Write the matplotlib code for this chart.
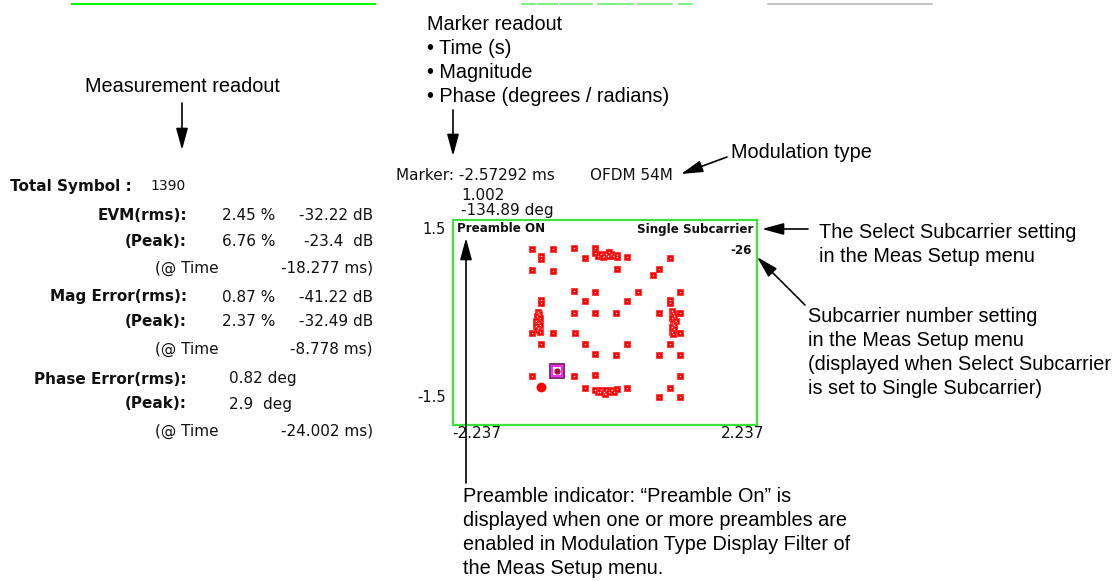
import matplotlib.pyplot as plt

# ---- constellation points (I, Q) ----
i_vals = [-1.07, -0.76, -0.46, -0.15, -0.94, -0.94, -0.30,
          -0.15, -0.10, -0.06, -0.02, 0.01, 0.05, 0.09, 0.12, 0.17, 0.17, -0.03, 0.06,
          0.33, 0.95, -1.07, -0.76, 0.17, 0.79, 0.71,
          -0.46, -0.15, 0.48, 1.10, -0.94, -0.94, -0.30, 0.33, 0.96, 0.96,
          -0.46, -0.15, 0.16, 0.79, 1.10,
          -0.98, -0.97, -1.00, -0.96, -1.02, -0.98, -0.96, -1.01, -0.98, -1.00, -0.96,
          0.98, 1.00, 1.02, 0.98, 1.04, 1.00, 1.02, 0.98, 1.01, 0.99, 1.00,
          -1.07, -0.76, -0.44, 1.10, -0.94, -0.30, 0.33, 0.96,
          -0.14, 0.16, 0.79, 1.10, -1.07, -0.46, -0.14, 1.10,
          -0.30, -0.15, -0.11, -0.06, -0.02, 0.00, 0.02, 0.06, 0.10, 0.13, 0.17, -0.07,
          0.33, 0.96, 0.79, 1.10]
q_vals = [1.08, 1.08, 1.09, 1.09, 0.97, 0.93, 0.94,
          1.02, 0.98, 1.00, 0.97, 1.00, 0.97, 1.00, 0.97, 0.99, 0.96, 0.955, 1.03,
          0.955, 0.945, 0.77, 0.76, 0.78, 0.78, 0.69,
          0.46, 0.45, 0.45, 0.44, 0.33, 0.28, 0.32, 0.31, 0.33, 0.29,
          0.145, 0.145, 0.145, 0.145, 0.145,
          0.16, 0.12, 0.09, 0.06, 0.02, 0.00, -0.03, -0.05, -0.08, -0.11, -0.14,
          0.17, 0.135, 0.10, 0.06, 0.02, 0.00, -0.04, -0.07, -0.10, -0.135, -0.17,
          -0.15, -0.16, -0.16, -0.16, -0.32, -0.32, -0.32, -0.32,
          -0.46, -0.48, -0.48, -0.48, -0.79, -0.79, -0.77, -0.79,
          -0.96, -0.99, -1.01, -0.985, -1.02, -1.05, -0.99, -1.02, -0.985, -1.01, -0.98, -1.02,
          -0.96, -0.96, -1.09, -1.09]
marker_i, marker_q = -0.70, -0.71
dot_i, dot_q = -0.94, -0.945

# ---- screen readouts ----
readout_labels = ['EVM(rms):', '(Peak):', '(@ Time', 'Mag Error(rms):', '(Peak):', '(@ Time',
                  'Phase Error(rms):', '(Peak):', '(@ Time']
readout_val1 = ['2.45 %', '6.76 %', '', '0.87 %', '2.37 %', '', '0.82 deg', '2.9  deg', '']
readout_val2 = ['-32.22 dB', '-23.4  dB', '-18.277 ms)', '-41.22 dB', '-32.49 dB', '-8.778 ms)',
                '', '', '-24.002 ms)']
readout_y = [216, 241, 268, 297, 322, 349, 379, 404, 431]

marker_lines = ['Marker: -2.57292 ms', '1.002', '-134.89 deg']

W, H = 1117, 581
fig = plt.figure(figsize=(W / 100, H / 100), dpi=100)

SCREEN = 'DejaVu Sans'
NOTE = 'Liberation Sans'
NOTE_SIZE = 14.3
GREEN = '#3ee03e'

# constellation box
ax = fig.add_axes([453 / W, 1 - 425 / H, (757 - 453) / W, (425 - 220) / H])
ax.set_xlim(-2.237, 2.237)
ax.set_ylim(-1.5, 1.5)
ax.set_xticks([])
ax.set_yticks([])
for s in ax.spines.values():
    s.set_color(GREEN)
    s.set_linewidth(1.6)
ax.plot(i_vals, q_vals, 's', ms=4.5, mfc='red', mec='#ff3030', mew=0.6, ls='none')
ax.plot(i_vals, q_vals, 's', ms=0.6, mfc='white', mec='white', mew=0.3, ls='none')
ax.plot([dot_i], [dot_q], 'o', ms=6, color='red')
ax.plot([marker_i], [marker_q], 's', ms=10.5, mfc='white', mec='#7a1a6a', mew=1.3)
ax.plot([marker_i], [marker_q], 's', ms=7.5, mfc='white', mec='#ff00ff', mew=1.2)
ax.plot([marker_i], [marker_q], 'o', ms=3.5, color='#a01030')

# overlay in pixel coords for text and callouts
ov = fig.add_axes([0, 0, 1, 1], facecolor='none')
ov.set_xlim(0, W)
ov.set_ylim(H, 0)
ov.axis('off')

# top strip remnants of the cropped screen
ov.plot([72, 375], [4, 4], color='#00ff00', lw=1.5)
ov.plot([768, 932], [4, 4], color='#bbbbbb', lw=1.2)
for x0, x1 in [(522, 535), (538, 557), (560, 592), (598, 612), (613, 633), (638, 672), (679, 692)]:
    ov.plot([x0, x1], [4, 4], color='#66ee66', lw=1.2)

# measurement readout
ov.text(10, 186, 'Total Symbol :', fontsize=11, fontweight='bold', family=SCREEN, va='center', color='#111111')
ov.text(150, 186, '1390', fontsize=10, family=SCREEN, va='center', color='#111111')
for lab, v1, v2, y in zip(readout_labels, readout_val1, readout_val2, readout_y):
    if lab.startswith('(@'):
        ov.text(155, y, lab, fontsize=11, family=SCREEN, va='center', color='#111111')
    else:
        ov.text(187, y, lab, fontsize=11, fontweight='bold', family=SCREEN, va='center', ha='right', color='#111111')
    if v1:
        x1 = 229 if 'deg' in v1 else 222
        ov.text(x1, y, v1, fontsize=11, family=SCREEN, va='center', color='#111111')
    if v2:
        ov.text(373, y, v2, fontsize=11, family=SCREEN, va='center', ha='right', color='#111111')

# marker readout on screen
ov.text(396, 176, marker_lines[0], fontsize=11, family=SCREEN, va='center', color='#111111')
ov.text(461, 195, marker_lines[1], fontsize=11, family=SCREEN, va='center', color='#111111')
ov.text(461, 211, marker_lines[2], fontsize=11, family=SCREEN, va='center', color='#111111')
ov.text(590, 176, 'OFDM 54M', fontsize=11, family=SCREEN, va='center', color='#111111')

# labels in and around the box
ov.text(457, 229, 'Preamble ON', fontsize=8.6, fontweight='bold', family=SCREEN, va='center', color='#111111')
ov.text(753, 229, 'Single Subcarrier', fontsize=8.6, fontweight='bold', family=SCREEN, va='center', ha='right', color='#111111')
ov.text(752, 250, '-26', fontsize=8.6, fontweight='bold', family=SCREEN, va='center', ha='right', color='#111111')
ov.text(446, 229, '1.5', fontsize=10.5, family=SCREEN, va='center', ha='right', color='#111111')
ov.text(446, 398, '-1.5', fontsize=10.5, family=SCREEN, va='center', ha='right', color='#111111')
ov.text(452, 434, '-2.237', fontsize=11, family=SCREEN, va='center', color='#111111')
ov.text(764, 434, '2.237', fontsize=11, family=SCREEN, va='center', ha='right', color='#111111')

# callout notes
def note(x, y, s, ha='left'):
    ov.text(x, y, s, fontsize=NOTE_SIZE, family=NOTE, va='center', ha=ha, color='black')

note(182, 87, 'Measurement readout', ha='center')
note(427, 24, 'Marker readout')
note(427, 49, '\u2022 Time (s)')
note(427, 73, '\u2022 Magnitude')
note(427, 97, '\u2022 Phase (degrees / radians)')
note(731, 152, 'Modulation type')
note(819, 233, 'The Select Subcarrier setting')
note(819, 256, 'in the Meas Setup menu')
sub_lines = ['Subcarrier number setting', 'in the Meas Setup menu',
             '(displayed when Select Subcarrier', 'is set to Single Subcarrier)']
for k, s in enumerate(sub_lines):
    note(808, 316 + 24 * k, s)
pre_lines = ['Preamble indicator: \u201cPreamble On\u201d is', 'displayed when one or more preambles are',
             'enabled in Modulation Type Display Filter of', 'the Meas Setup menu.']
for k, s in enumerate(pre_lines):
    note(463, 496 + 24.3 * k, s)

arrow = dict(arrowstyle='-|>,head_length=1.1,head_width=0.3', color='black', lw=1.2,
             mutation_scale=12, shrinkA=0, shrinkB=0)
for (x0, y0), (x1, y1) in [((182, 103), (182, 150)), ((453, 110), (453, 156)),
                           ((727, 157), (681, 174)), ((808, 229), (762, 229)),
                           ((805, 305), (757, 257)), ((466, 483), (466, 238))]:
    ov.annotate('', xy=(x1, y1), xytext=(x0, y0), arrowprops=arrow)

fig.savefig('out.png', dpi=100)
